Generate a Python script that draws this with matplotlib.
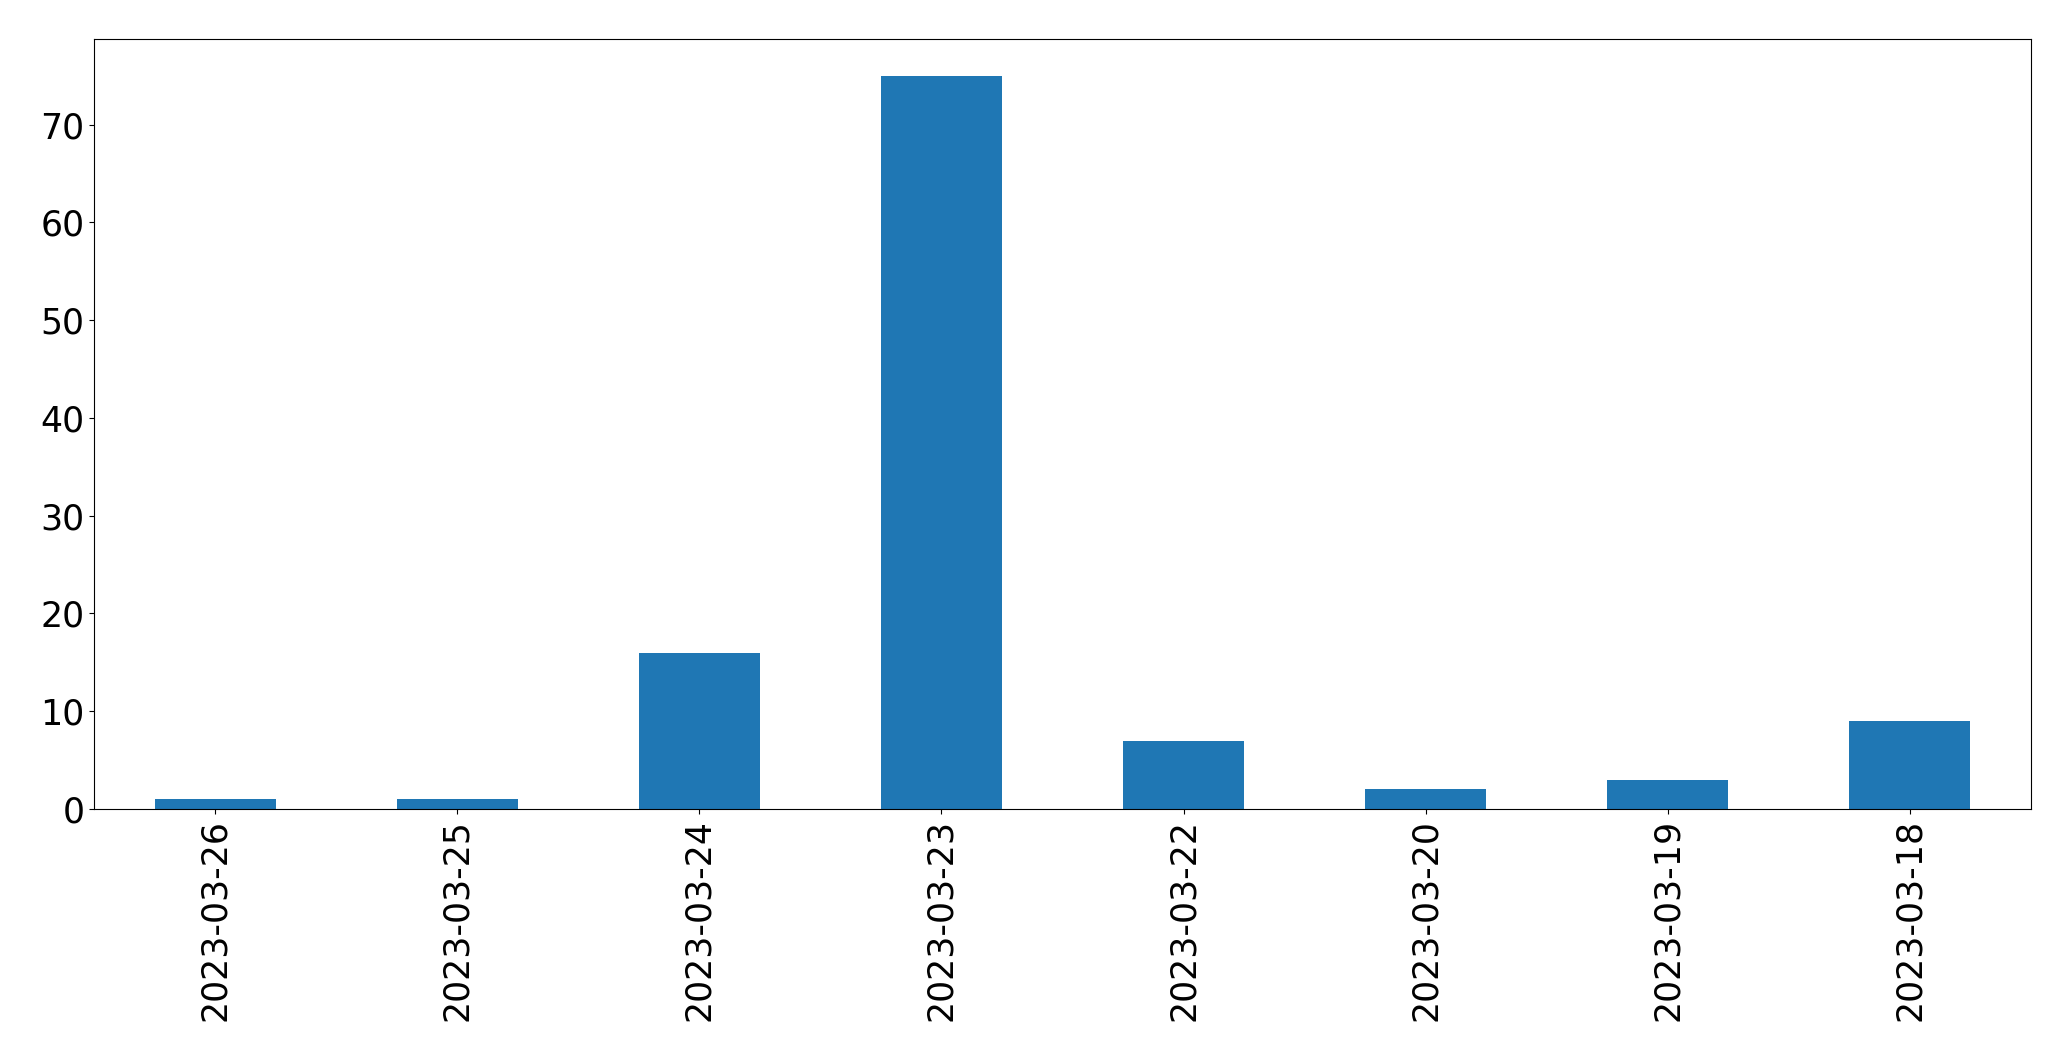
import matplotlib
matplotlib.use('Agg')
import matplotlib.pyplot as plt
import pandas as pd

dates = ['2023-03-26', '2023-03-25', '2023-03-24', '2023-03-23',
         '2023-03-22', '2023-03-20', '2023-03-19', '2023-03-18']
counts = [1, 1, 16, 75, 7, 2, 3, 9]

s = pd.Series(counts, index=dates)

fig = plt.figure(figsize=(20.71, 10.61), dpi=100)
ax = fig.add_axes([94/2071, 1 - 809/1061, (2031-94)/2071, (809-39)/1061])
s.plot(kind='bar', ax=ax, fontsize=25, color='#1f77b4')

plt.savefig('out.png', dpi=100)
